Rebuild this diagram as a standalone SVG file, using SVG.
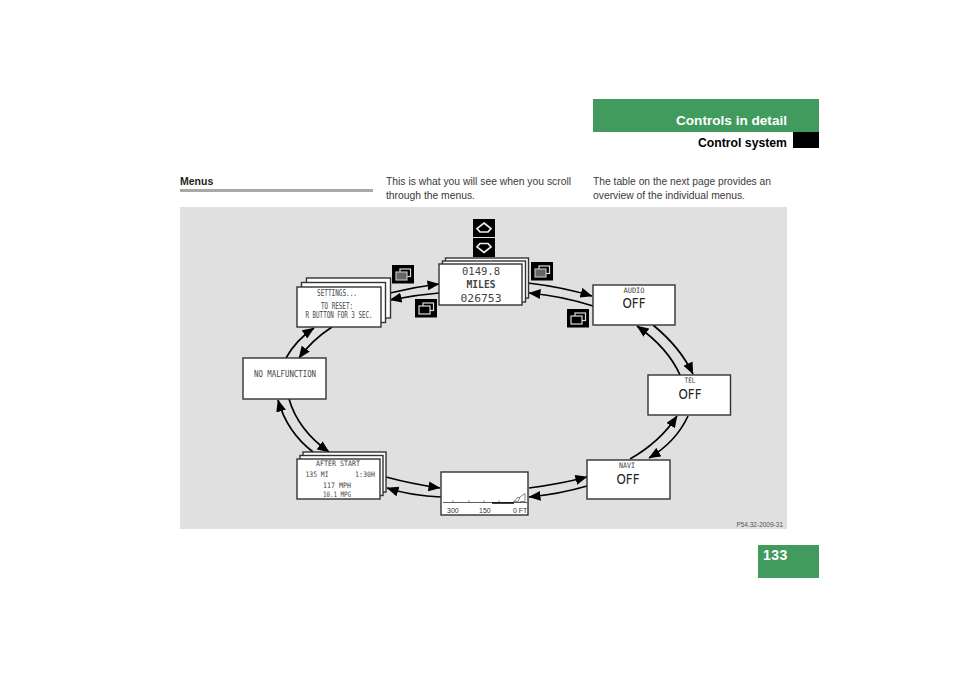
<svg xmlns="http://www.w3.org/2000/svg" width="960" height="678" viewBox="0 0 960 678">
<style>
.body{font:10.4px "Liberation Sans",Arial,sans-serif;fill:#3a3a3a}
.h{font:bold 12px "Liberation Sans",Arial,sans-serif}
.box{fill:#fff;stroke:#333;stroke-width:1.4}
.lcd{font-family:"DejaVu Sans Mono","Liberation Mono",monospace;fill:#444;text-anchor:middle}
.off{font:14px "DejaVu Sans",sans-serif;fill:#222;text-anchor:middle}
.c{fill:none;stroke:#000;stroke-width:1.7;marker-end:url(#a)}
.ic{fill:#000}
.w{fill:none;stroke:#ddd;stroke-width:1.2}
.wg{fill:#666;stroke:#bbb;stroke-width:1.2}
.wb{fill:#000;stroke:#ddd;stroke-width:1.2}
</style>
<defs>
<marker id="a" markerUnits="userSpaceOnUse" markerWidth="14" markerHeight="11" refX="11.500" refY="5" orient="auto"><path d="M0 0L12 5L0 10Z" fill="#000"/></marker>
<g id="ico"><rect class="ic" width="22" height="18.500"/><rect class="w" x="8" y="4" width="10.500" height="7.500"/><rect class="wb" x="4" y="7" width="11" height="8"/></g>
<g id="icog"><rect class="ic" width="22" height="18.500"/><rect class="w" x="8" y="4" width="10.500" height="7.500"/><rect class="wg" x="4" y="7" width="11" height="8"/></g>
</defs>
<rect width="960" height="678" fill="#fff"/>
<g id="header">
<rect x="593" y="99" width="226" height="33" fill="#429b5e"/>
<rect x="793" y="132" width="26" height="16" fill="#000"/>
<text class="h" x="787" y="125" text-anchor="end" fill="#fff" textLength="111" lengthAdjust="spacingAndGlyphs">Controls in detail</text>
<text class="h" x="787" y="147" text-anchor="end" fill="#000" textLength="89" lengthAdjust="spacingAndGlyphs">Control system</text>
</g>
<g id="page"><rect x="758" y="545" width="61" height="33" fill="#429b5e"/><text x="763" y="560" font-family="Liberation Sans,sans-serif" font-weight="bold" font-size="14" fill="#fff" letter-spacing=".5">133</text></g>
<g id="intro">
<text x="180" y="185" font-family="Liberation Sans,sans-serif" font-weight="bold" font-size="10.500" fill="#222">Menus</text>
<rect x="180" y="189" width="193" height="3" fill="#a8a8a8"/>
<text class="body" x="386" y="185" textLength="185" lengthAdjust="spacingAndGlyphs">This is what you will see when you scroll</text>
<text class="body" x="386" y="199" textLength="89" lengthAdjust="spacingAndGlyphs">through the menus.</text>
<text class="body" x="593" y="185" textLength="178" lengthAdjust="spacingAndGlyphs">The table on the next page provides an</text>
<text class="body" x="593" y="199" textLength="152" lengthAdjust="spacingAndGlyphs">overview of the individual menus.</text>
</g>
<rect x="180" y="207" width="607" height="322" fill="#e0e0e0"/>
<text x="783" y="527" text-anchor="end" font-family="Liberation Sans,sans-serif" font-size="6.500" fill="#555">P54.32-2009-31</text>
<g id="connectors">
<path class="c" d="M390 293Q414 287 439 284"/>
<path class="c" d="M439 293Q414 295 390 300"/>
<path class="c" d="M528 283Q562 287 592 296"/>
<path class="c" d="M593 306Q562 296 529 293"/>
<path class="c" d="M653 325Q680 347 693 374"/>
<path class="c" d="M680 375Q668 348 637 326"/>
<path class="c" d="M688 416Q676 442 649 458"/>
<path class="c" d="M630 459Q660 442 677 416"/>
<path class="c" d="M587 486Q560 494 529 497"/>
<path class="c" d="M529 488Q560 484 587 477"/>
<path class="c" d="M441 497Q412 496 387 488"/>
<path class="c" d="M386 477Q412 484 440 488"/>
<path class="c" d="M313 452Q287 432 278 400"/>
<path class="c" d="M289 399Q298 430 329 452"/>
<path class="c" d="M286 358Q296 340 314 328"/>
<path class="c" d="M332 327Q312 340 299 358"/>
</g>
<g id="node-trip">
<rect class="box" x="445.500" y="258" width="83" height="40"/><rect class="box" x="442.500" y="261" width="83" height="41"/><rect class="box" x="439" y="264" width="83" height="41"/>
<text class="lcd" x="481" y="275" font-size="11" textLength="38" lengthAdjust="spacingAndGlyphs">0149.8</text>
<text class="lcd" x="481" y="288" font-size="10.500" font-weight="bold" textLength="29" lengthAdjust="spacingAndGlyphs">MILES</text>
<text class="lcd" x="481" y="302" font-size="11" textLength="41" lengthAdjust="spacingAndGlyphs">026753</text>
</g>
<g id="node-settings">
<rect class="box" x="306.500" y="278" width="84" height="40"/><rect class="box" x="301.500" y="282.500" width="84" height="40"/><rect class="box" x="297" y="287" width="84" height="40"/>
<text class="lcd" x="337" y="295.500" font-size="8" textLength="40" lengthAdjust="spacingAndGlyphs">SETTINGS...</text>
<text class="lcd" x="337" y="309" font-size="8" textLength="32" lengthAdjust="spacingAndGlyphs">TO RESET:</text>
<text class="lcd" x="339" y="317.500" font-size="8" textLength="67" lengthAdjust="spacingAndGlyphs">R BUTTON FOR 3 SEC.</text>
</g>
<g id="node-audio">
<rect class="box" x="593" y="285" width="82" height="40"/>
<text class="lcd" x="634" y="292.500" font-size="7.500" textLength="21" lengthAdjust="spacingAndGlyphs">AUDIO</text>
<text class="off" x="634" y="308" textLength="23" lengthAdjust="spacingAndGlyphs">OFF</text>
</g>
<g id="node-tel">
<rect class="box" x="648" y="375" width="82.500" height="40"/>
<text class="lcd" x="690" y="383" font-size="7.500" textLength="11" lengthAdjust="spacingAndGlyphs">TEL</text>
<text class="off" x="690" y="399" textLength="23" lengthAdjust="spacingAndGlyphs">OFF</text>
</g>
<g id="node-navi">
<rect class="box" x="587" y="460" width="83" height="39"/>
<text class="lcd" x="627" y="467.500" font-size="7.500" textLength="16" lengthAdjust="spacingAndGlyphs">NAVI</text>
<text class="off" x="628" y="484" textLength="23" lengthAdjust="spacingAndGlyphs">OFF</text>
</g>
<g id="node-map">
<rect class="box" x="441" y="472" width="87" height="43"/>
<path d="M443 502.500H527" stroke="#333" stroke-width=".8"/>
<path d="M492 503H514" stroke="#000" stroke-width="1.500"/>
<path d="M453 502v-1.500M469 502v-1.500M484 502v-1.500M499 502v-1.500M514 502v-1.500" stroke="#333" stroke-width=".7"/>
<path d="M514.500 501.500h3.500l2-4h-3zM520 497l5-3.500v8h-5M519 501.500l1 1" fill="none" stroke="#555" stroke-width=".7"/>
<text x="447" y="513" font-family="Liberation Sans,sans-serif" font-size="7" fill="#333">300</text>
<text x="479" y="513" font-family="Liberation Sans,sans-serif" font-size="7" fill="#333">150</text>
<text x="513" y="513" font-family="Liberation Sans,sans-serif" font-size="7" fill="#333">0 FT</text>
</g>
<g id="node-after">
<rect class="box" x="303" y="452" width="83" height="40"/><rect class="box" x="300" y="455.500" width="83" height="40"/><rect class="box" x="297" y="459" width="83" height="40"/>
<text class="lcd" x="338" y="465.500" font-size="7.500" textLength="44" lengthAdjust="spacingAndGlyphs">AFTER START</text>
<text class="lcd" x="317" y="476.500" font-size="7.500" textLength="23" lengthAdjust="spacingAndGlyphs">135 MI</text>
<text class="lcd" x="365" y="476.500" font-size="7.500" textLength="20" lengthAdjust="spacingAndGlyphs">1:30H</text>
<text class="lcd" x="337" y="487.500" font-size="7.500" textLength="28" lengthAdjust="spacingAndGlyphs">117 MPH</text>
<text class="lcd" x="337" y="497" font-size="7.500" textLength="28" lengthAdjust="spacingAndGlyphs">10.1 MPG</text>
</g>
<g id="node-status">
<rect class="box" x="243" y="358" width="83" height="41"/>
<text class="lcd" x="285" y="376.500" font-size="8" textLength="62" lengthAdjust="spacingAndGlyphs">NO MALFUNCTION</text>
</g>
<g id="btn-up"><rect class="ic" x="473" y="219" width="22" height="18"/><path d="M484 223L491 228.500L488 232H480L477 228.500Z" fill="none" stroke="#eee" stroke-width="1.700"/></g>
<g id="btn-down"><rect class="ic" x="473" y="238" width="22" height="19"/><path d="M484 252.500L491 247L488 243.500H480L477 247Z" fill="none" stroke="#eee" stroke-width="1.700"/></g>
<use id="btn-a" href="#icog" x="392" y="265"/>
<use id="btn-b" href="#ico" x="415" y="299"/>
<use id="btn-c" href="#icog" x="531" y="262"/>
<use id="btn-d" href="#ico" x="567" y="309"/>
</svg>
